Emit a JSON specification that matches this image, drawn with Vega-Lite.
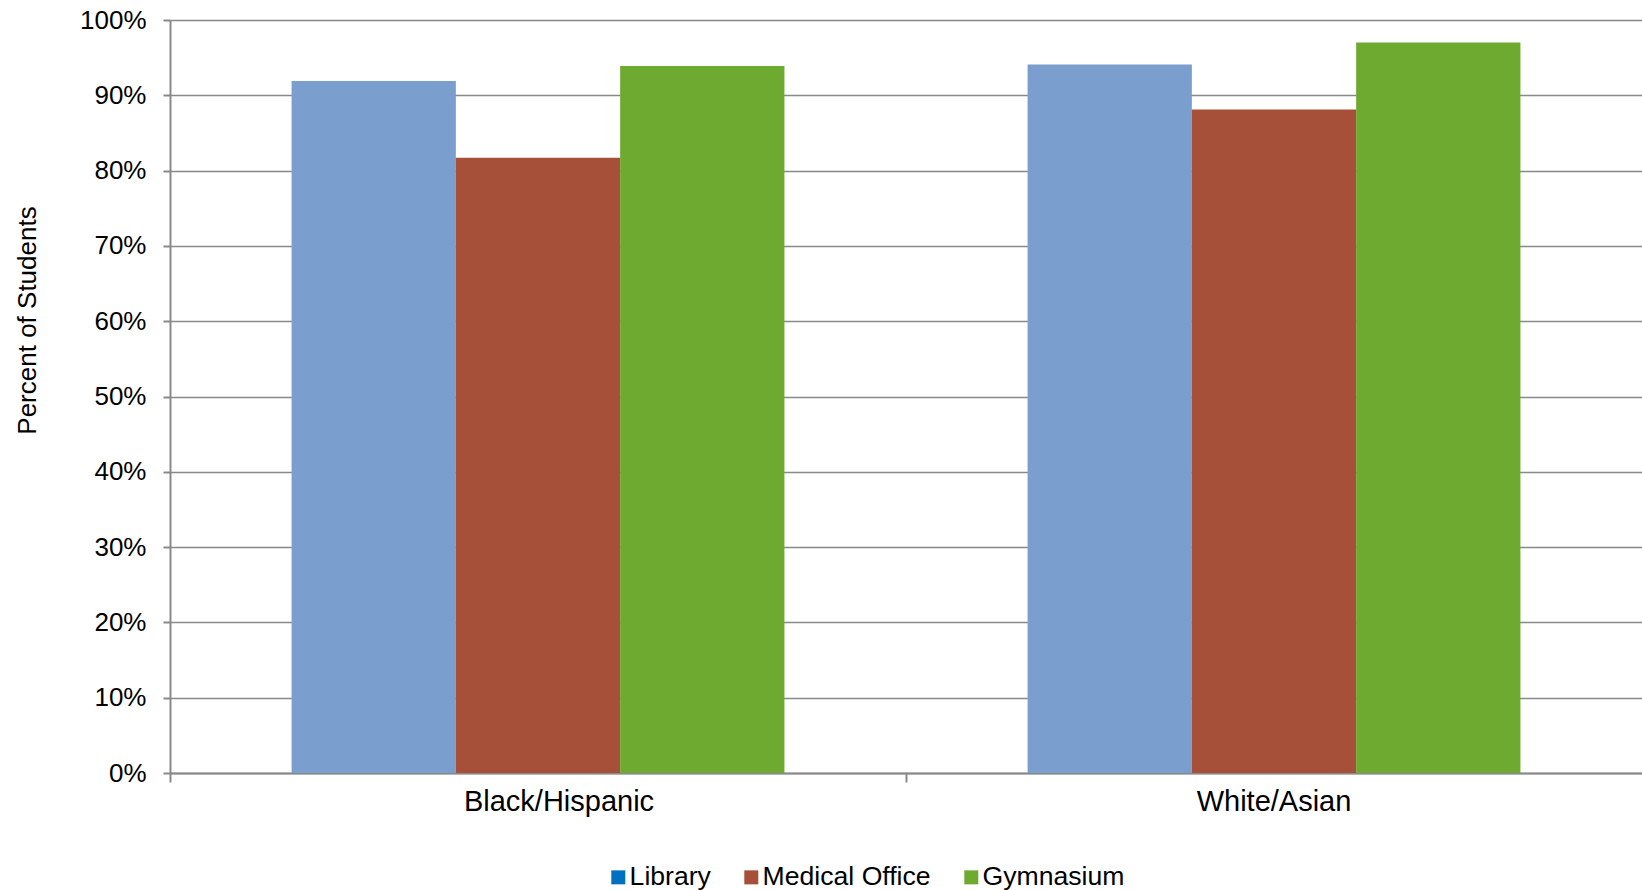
{
  "$schema": "https://vega.github.io/schema/vega-lite/v6.json",
  "width": 1472,
  "height": 753,
  "autosize": {"type": "none"},
  "padding": {"left": 170, "top": 20, "right": 0, "bottom": 117},
  "background": "white",
  "config": {
    "font": "Liberation Sans",
    "view": {"stroke": null}
  },
  "data": {
    "values": [
      {"group": "Black/Hispanic", "facility": "Library", "value": 0.919},
      {"group": "Black/Hispanic", "facility": "Medical Office", "value": 0.817},
      {"group": "Black/Hispanic", "facility": "Gymnasium", "value": 0.939},
      {"group": "White/Asian", "facility": "Library", "value": 0.941},
      {"group": "White/Asian", "facility": "Medical Office", "value": 0.881},
      {"group": "White/Asian", "facility": "Gymnasium", "value": 0.970}
    ]
  },
  "encoding": {
    "x": {
      "field": "group",
      "type": "nominal",
      "sort": ["Black/Hispanic", "White/Asian"],
      "scale": {"paddingInner": 0, "paddingOuter": 0},
      "axis": {
        "title": null,
        "grid": false,
        "labelAngle": 0,
        "labelFontSize": 29,
        "labelColor": "#000000",
        "labelBaseline": "alphabetic",
        "labelPadding": 28,
        "labelLimit": 0,
        "labelOffset": {"condition": {"test": "datum.value === 'Black/Hispanic'", "value": 21}, "value": 0},
        "bandPosition": 0,
        "tickSize": 9,
        "tickWidth": 2,
        "tickColor": "#898989",
        "domainColor": "#898989",
        "domainWidth": 2
      }
    },
    "xOffset": {
      "field": "facility",
      "type": "nominal",
      "sort": ["Library", "Medical Office", "Gymnasium"],
      "scale": {"paddingInner": 0, "paddingOuter": 0.74}
    },
    "y": {
      "field": "value",
      "type": "quantitative",
      "scale": {"domain": [0, 1], "nice": false},
      "axis": {
        "title": "Percent of Students",
        "format": ".0%",
        "values": [0, 0.1, 0.2, 0.3, 0.4, 0.5, 0.6, 0.7, 0.8, 0.9, 1],
        "labelFontSize": 26,
        "labelColor": "#000000",
        "labelPadding": 17,
        "tickSize": 7,
        "tickWidth": 2,
        "tickColor": "#898989",
        "domainColor": "#898989",
        "domainWidth": 2,
        "gridColor": "#898989",
        "gridWidth": 1.6,
        "titleFontSize": 26,
        "titleFontWeight": "normal",
        "titleColor": "#000000",
        "titleAngle": -90,
        "titleBaseline": "alphabetic",
        "titleAlign": "center",
        "titleX": -135,
        "titleY": 300
      }
    }
  },
  "layer": [
    {
      "mark": {"type": "bar"},
      "encoding": {
        "color": {
          "field": "facility",
          "type": "nominal",
          "scale": {
            "domain": ["Library", "Medical Office", "Gymnasium"],
            "range": ["#7A9ECE", "#A64F39", "#6EAA2F"]
          },
          "legend": null
        }
      }
    },
    {
      "mark": {"type": "point", "shape": "square", "filled": true, "size": 0, "opacity": 1},
      "encoding": {
        "color": {
          "field": "facility",
          "type": "nominal",
          "scale": {
            "domain": ["Library", "Medical Office", "Gymnasium"],
            "range": ["#0070C0", "#A64F39", "#6EAA2F"]
          },
          "legend": {
            "title": null,
            "orient": "none",
            "direction": "horizontal",
            "legendX": 435,
            "legendY": 844,
            "padding": 0,
            "symbolType": "square",
            "symbolSize": 196,
            "symbolStrokeWidth": 0,
            "symbolOpacity": 1,
            "labelFontSize": 26.6,
            "labelColor": "#000000",
            "labelOffset": -2,
            "labelLimit": 0,
            "columnPadding": 27
          }
        }
      }
    }
  ],
  "resolve": {"scale": {"color": "independent"}, "legend": {"color": "independent"}}
}
